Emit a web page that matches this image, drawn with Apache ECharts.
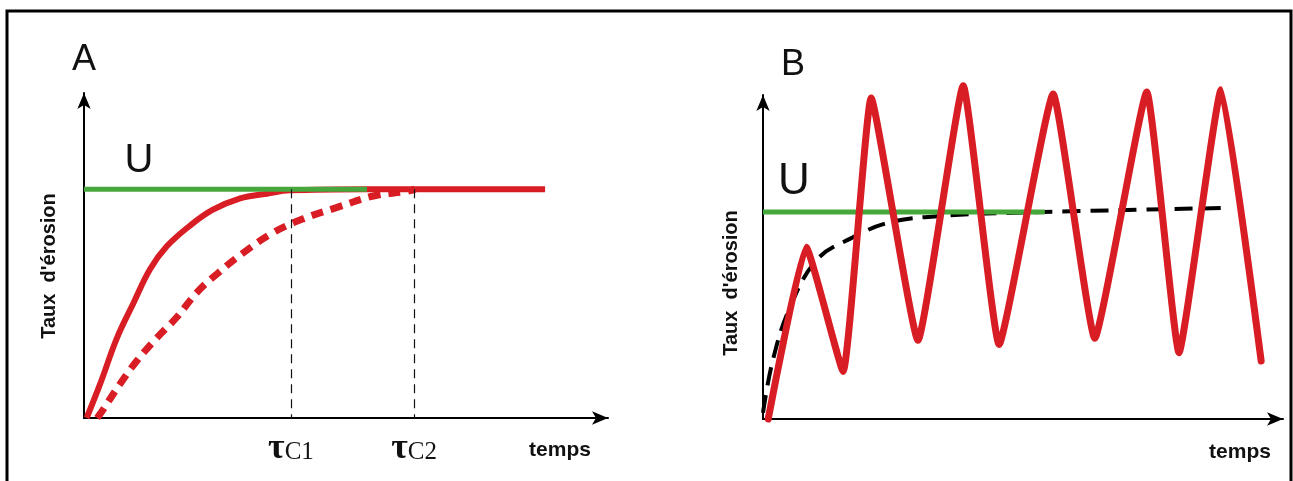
<!DOCTYPE html>
<html>
<head>
<meta charset="utf-8">
<script src="https://cdn.jsdelivr.net/npm/echarts@6/dist/echarts.min.js"></script>
<style>
  html, body { margin: 0; padding: 0; background: #fff; }
  #chart { width: 1293px; height: 481px; }
</style>
</head>
<body>
<div id="chart"></div>
<script>
// panneau A : temps de réponse
const timeSolidA = [0.5, 3.1, 6.3, 9.4, 12.6, 15.8, 20.2, 24.6, 29.8, 34.9, 39.3, 54, 88]
const rateSolidA = [0, 0.15, 0.35, 0.50, 0.65, 0.75, 0.84, 0.91, 0.96, 0.98, 0.995, 1, 1]
const timeDashA = [2.5, 3.6, 6.9, 10.1, 13.9, 17.7, 21.6, 25.4, 30.3, 36.1, 41.8, 48.3, 55.2, 61.6, 63.2]
const rateDashA = [0, 0.035, 0.15, 0.25, 0.35, 0.44, 0.55, 0.63, 0.72, 0.81, 0.87, 0.92, 0.97, 0.99, 1.0]
const upliftTimeA = [0, 54]
const tauTimes = [39.5, 63.0]
const tauNames = ['C1', 'C2']

// panneau B : forçage oscillant
const timeOscB = [1.0, 8.3, 15.4, 20.8, 29.8, 38.5, 45.4, 55.8, 63.8, 73.8, 80.0, 88.1, 95.8]
const rateOscB = [0, 0.83, 0.23, 1.55, 0.38, 1.61, 0.36, 1.57, 0.39, 1.58, 0.32, 1.59, 0.28]
const timeMeanB = [0, 1.9, 5.2, 10.4, 16.7, 24.4, 34.0, 46.9, 89.8]
const rateMeanB = [0.03, 0.285, 0.54, 0.77, 0.87, 0.95, 0.98, 0.995, 1.02]
const upliftTimeB = [0, 54.2]
const upliftRate = 1

const RED = '#d91d24'
const GREEN = '#46a83c'
const SANS = 'Liberation Sans, Arial, sans-serif'
const SERIF = 'Liberation Serif, Times New Roman, serif'

function pairs (xs, ys) {
  return xs.map((x, i) => [x, ys[i]])
}

function axisStyle (max) {
  return {
    type: 'value',
    min: 0,
    max: max,
    axisLine: {
      show: true,
      symbol: ['none', 'arrow'],
      symbolSize: [10, 16],
      lineStyle: { color: '#000', width: 2 }
    },
    axisTick: { show: false },
    axisLabel: { show: false },
    splitLine: { show: false }
  }
}

// le point qui porte l'étiquette U
function uLabel (x, y, size, dx) {
  return {
    value: [x, y],
    symbol: 'circle',
    symbolSize: 1,
    itemStyle: { color: 'transparent' },
    label: {
      show: true,
      formatter: 'U',
      position: 'top',
      offset: [dx, 0],
      distance: 8,
      color: '#111',
      fontFamily: SANS,
      fontSize: size
    }
  }
}

const tauLines = tauTimes.map((t, i) => [
  { coord: [t, upliftRate] },
  {
    coord: [t, 0],
    label: {
      show: true,
      position: 'end',
      distance: 13,
      formatter: '{t|τ}{s|' + tauNames[i] + '}',
      rich: {
        t: { fontFamily: SERIF, fontWeight: 'bold', fontSize: 36, color: '#111', verticalAlign: 'top', lineHeight: 34 },
        s: { fontFamily: SERIF, fontSize: 25, color: '#111', verticalAlign: 'bottom', lineHeight: 34, padding: [12, 0, 0, 0] }
      }
    }
  }
])

const myChart = echarts.init(document.getElementById('chart'))

const option = {
  animation: false,
  backgroundColor: '#fff',
  grid: [
    { left: 84, top: 93, width: 524, height: 325 },
    { left: 763, top: 95, width: 520, height: 324 }
  ],
  xAxis: [
    Object.assign(axisStyle(100), { gridIndex: 0 }),
    Object.assign(axisStyle(100), { gridIndex: 1 })
  ],
  yAxis: [
    Object.assign(axisStyle(1.42), { gridIndex: 0 }),
    Object.assign(axisStyle(1.565), { gridIndex: 1 })
  ],
  graphic: [
    {
      type: 'rect',
      shape: { x: 7, y: 11, width: 1284, height: 480 },
      style: { fill: 'none', stroke: '#000', lineWidth: 3 },
      z: 100
    },
    { type: 'text', x: 84, y: 60, style: { text: 'A', font: '36px ' + SANS, fill: '#111', textAlign: 'center', textVerticalAlign: 'middle' } },
    { type: 'text', x: 793, y: 65, style: { text: 'B', font: '36px ' + SANS, fill: '#111', textAlign: 'center', textVerticalAlign: 'middle' } },
    { type: 'text', x: 49, y: 266, rotation: Math.PI / 2, style: { text: "Taux  d'érosion", font: 'bold 20px ' + SANS, fill: '#111', textAlign: 'center', textVerticalAlign: 'middle' } },
    { type: 'text', x: 731, y: 283, rotation: Math.PI / 2, style: { text: "Taux  d'érosion", font: 'bold 20px ' + SANS, fill: '#111', textAlign: 'center', textVerticalAlign: 'middle' } },
    { type: 'text', x: 560, y: 450, style: { text: 'temps', font: 'bold 21px ' + SANS, fill: '#111', textAlign: 'center', textVerticalAlign: 'middle' } },
    { type: 'text', x: 1240, y: 452, style: { text: 'temps', font: 'bold 21px ' + SANS, fill: '#111', textAlign: 'center', textVerticalAlign: 'middle' } }
  ],
  series: [
    {
      type: 'line',
      xAxisIndex: 0,
      yAxisIndex: 0,
      data: pairs(timeDashA, rateDashA),
      smooth: 0.4,
      showSymbol: false,
      silent: true,
      lineStyle: { color: RED, width: 7, type: [12, 8] },
      markLine: {
        silent: true,
        symbol: 'none',
        lineStyle: { color: '#111', width: 1.2, type: [9, 6] },
        label: { show: false },
        data: tauLines
      }
    },
    {
      type: 'line',
      xAxisIndex: 0,
      yAxisIndex: 0,
      data: pairs(timeSolidA, rateSolidA),
      smooth: 0.4,
      showSymbol: false,
      silent: true,
      lineStyle: { color: RED, width: 6 }
    },
    {
      type: 'line',
      xAxisIndex: 0,
      yAxisIndex: 0,
      data: [uLabel(upliftTimeA[0], upliftRate, 40, 55), [upliftTimeA[1], upliftRate]],
      showSymbol: true,
      symbol: 'none',
      silent: true,
      lineStyle: { color: GREEN, width: 5 }
    },
    {
      type: 'line',
      xAxisIndex: 1,
      yAxisIndex: 1,
      data: pairs(timeMeanB, rateMeanB),
      smooth: 0.4,
      showSymbol: false,
      silent: true,
      lineStyle: { color: '#000', width: 4, type: [18, 10] }
    },
    {
      type: 'line',
      xAxisIndex: 1,
      yAxisIndex: 1,
      data: [uLabel(upliftTimeB[0], upliftRate, 44, 31), [upliftTimeB[1], upliftRate]],
      showSymbol: true,
      symbol: 'none',
      silent: true,
      lineStyle: { color: GREEN, width: 5 }
    },
    {
      type: 'line',
      xAxisIndex: 1,
      yAxisIndex: 1,
      data: pairs(timeOscB, rateOscB),
      smooth: 0.12,
      clip: false,
      showSymbol: false,
      silent: true,
      lineStyle: { color: RED, width: 7, join: 'round', cap: 'round' }
    }
  ]
}

myChart.setOption(option)
</script>
</body>
</html>
